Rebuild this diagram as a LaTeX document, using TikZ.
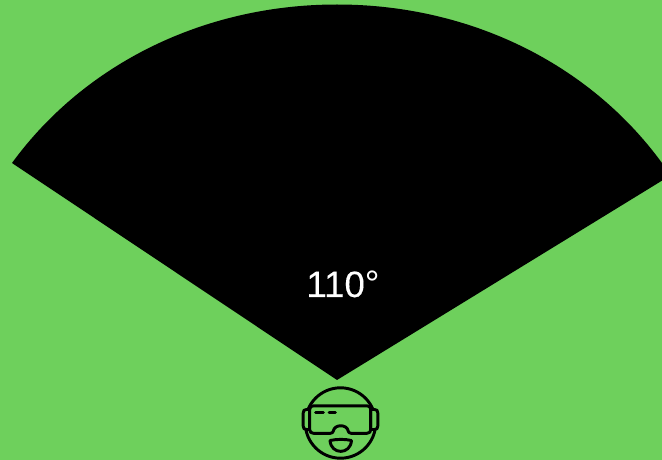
\documentclass[tikz,border=0pt]{standalone}
\usepackage{fontspec}
\setmainfont{Liberation Sans}
\newfontfamily\labelfont[FakeBold=0.2]{Liberation Sans}
\definecolor{bggreen}{HTML}{6ED05C}
\begin{document}
\begin{tikzpicture}[x=0.75pt,y=-0.75pt,
  icon/.style={draw=black,line width=2.2pt,line join=round,line cap=round},
  label/.style={text=white,inner sep=0pt,anchor=base,font=\fontsize{27.5}{32}\selectfont}]
\useasboundingbox (0,0) rectangle (662,460);
\fill[bggreen] (0,0) rectangle (662,460);
\begin{scope}
\clip (0,0) rectangle (662,460);
% sector
\fill[black] (337,380) -- (12,163)
  .. controls (85,63) and (205,4.5) .. (337,4.5)
  .. controls (469,4.5) and (589,63) .. (662,163) -- (672,174.5) -- cycle;
\node[label] (angle) at (343,297) {{\labelfont 110}°};
% head
\draw[icon] (340.5,423) circle [radius=26.4pt];
% ear pieces
\draw[icon,fill=bggreen] (309.7,409.5) -- (306.5,409.5) .. controls (304.2,409.5) and (303.2,410.5) .. (303.2,413)
  -- (303.2,426) .. controls (303.2,428.5) and (304.2,429.5) .. (306.5,429.5) -- (309.7,429.5) -- cycle;
\draw[icon,fill=bggreen] (370.7,409.5) -- (374.5,409.5) .. controls (376.8,409.5) and (377.8,410.5) .. (377.8,413)
  -- (377.8,426) .. controls (377.8,428.5) and (376.8,429.5) .. (374.5,429.5) -- (370.7,429.5) -- cycle;
% goggles
\draw[icon,fill=bggreen] (313.5,405.8) -- (367,405.8)
  .. controls (369.5,405.8) and (370.7,407) .. (370.7,409.5)
  -- (370.7,429.5) .. controls (370.7,432) and (369.5,433.3) .. (367,433.3)
  -- (351,433.3) .. controls (349,433.3) and (348.5,432) .. (348.2,431)
  .. controls (347,424) and (334.5,424) .. (333.3,431)
  .. controls (333,432) and (332.5,433.3) .. (330.5,433.3)
  -- (313.5,433.3) .. controls (311,433.3) and (309.7,432) .. (309.7,429.5)
  -- (309.7,409.5) .. controls (309.7,407) and (311,405.8) .. (313.5,405.8) -- cycle;
% visor dashes
\draw[icon] (315.5,412.7) -- (323.5,412.7);
\draw[icon] (329,412.7) -- (335.5,412.7);
% mouth
\draw[icon] (330,440.5) .. controls (337,439) and (345,439) .. (351.5,440.5)
  .. controls (350.5,455) and (331,455) .. (330,440.5) -- cycle;
\end{scope}
\end{tikzpicture}
\end{document}
